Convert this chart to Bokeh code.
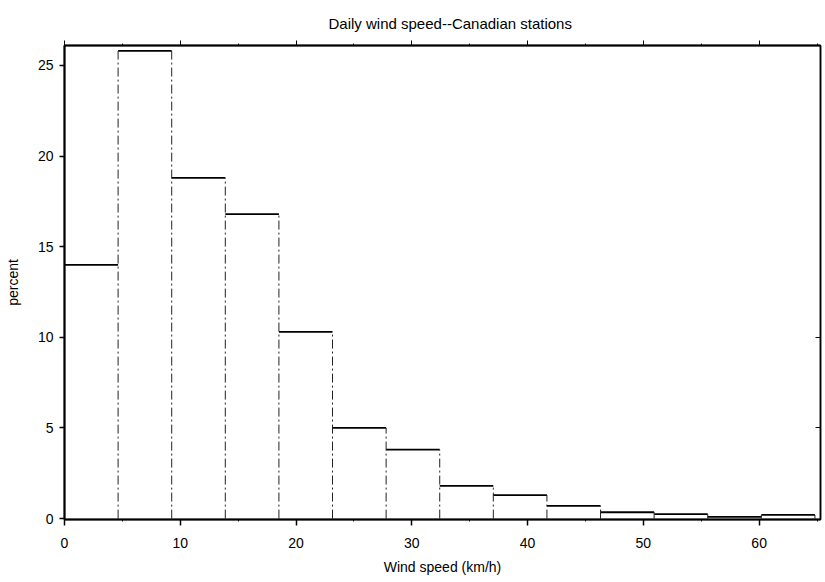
from bokeh.plotting import figure
from bokeh.models import Range1d, LinearAxis, FixedTicker, ColumnDataSource
from bokeh.embed import file_html
from bokeh.resources import INLINE

# Bin edges (km/h) and percent per bin
bin_left = [0.0, 4.63, 9.26, 13.89, 18.52, 23.15, 27.78, 32.41, 37.04, 41.67, 46.30, 50.93, 55.56, 60.19]
bin_right = [4.63, 9.26, 13.89, 18.52, 23.15, 27.78, 32.41, 37.04, 41.67, 46.30, 50.93, 55.56, 60.19, 64.82]
percent = [14.0, 25.8, 18.8, 16.8, 10.3, 5.0, 3.8, 1.8, 1.3, 0.7, 0.35, 0.25, 0.1, 0.2]

x_ticks = [0, 10, 20, 30, 40, 50, 60]
x_minor = [5, 15, 25, 35, 45, 55, 65]
y_ticks = [0, 5, 10, 15, 20, 25]
right_ticks = [5, 10]

FONT = "Liberation Sans"

p = figure(width=823, height=578, output_backend="svg", toolbar_location=None,
           x_range=Range1d(0, 65.3), y_range=Range1d(-0.05, 26.1),
           title="Daily wind speed--Canadian stations",
           x_axis_label="Wind speed (km/h)", y_axis_label="percent")
p.min_border_left = 64
p.min_border_right = 3
p.min_border_top = 45
p.min_border_bottom = 59
p.background_fill_color = "white"
p.border_fill_color = "white"
p.grid.visible = False
p.outline_line_color = "black"
p.outline_line_width = 1.5

p.title.align = "left"
p.title.text_font = FONT
p.title.text_font_size = "15px"
p.title.text_font_style = "normal"
p.title.text_color = "black"
p.title.offset = 264
p.title.standoff = 17

for ax in (p.xaxis[0], p.yaxis[0]):
    ax.axis_line_color = "black"
    ax.axis_line_width = 2
    ax.major_tick_line_color = "black"
    ax.major_tick_line_width = 1.5
    ax.minor_tick_line_color = "black"
    ax.major_label_text_font = FONT
    ax.major_label_text_font_size = "14px"
    ax.major_label_text_color = "black"
    ax.axis_label_text_font = FONT
    ax.axis_label_text_font_size = "14px"
    ax.axis_label_text_font_style = "normal"
    ax.axis_label_text_color = "black"

p.xaxis[0].ticker = FixedTicker(ticks=x_ticks, minor_ticks=x_minor)
p.xaxis[0].major_tick_in = 0
p.xaxis[0].major_tick_out = 6
p.xaxis[0].minor_tick_in = 0
p.xaxis[0].minor_tick_out = 2
p.xaxis[0].major_label_standoff = 12
p.xaxis[0].axis_label_standoff = 8

p.yaxis[0].ticker = FixedTicker(ticks=y_ticks, minor_ticks=[])
p.yaxis[0].major_tick_in = 0
p.yaxis[0].major_tick_out = 5
p.yaxis[0].major_label_standoff = 6
p.yaxis[0].axis_label_standoff = 14

# top axis: ticks only
top = LinearAxis(ticker=FixedTicker(ticks=x_ticks, minor_ticks=x_minor),
                 major_label_overrides={t: "" for t in x_ticks})
top.major_label_text_font_size = "1px"
top.major_label_standoff = 0
top.axis_line_color = "black"
top.axis_line_width = 2
top.major_tick_in = 0
top.major_tick_out = 5
top.minor_tick_in = 0
top.minor_tick_out = 2
top.major_tick_line_color = "black"
top.minor_tick_line_color = "black"
p.add_layout(top, "above")

# right axis: small inward ticks
right = LinearAxis(ticker=FixedTicker(ticks=right_ticks, minor_ticks=[]),
                   major_label_overrides={t: "" for t in right_ticks})
right.major_label_text_font_size = "1px"
right.major_label_standoff = 0
right.axis_line_color = "black"
right.axis_line_width = 1.5
right.major_tick_in = 5
right.major_tick_out = 0
right.major_tick_line_color = "black"
p.add_layout(right, "right")

# histogram tops
tops = ColumnDataSource(dict(x0=bin_left, x1=bin_right, y=percent))
p.segment(x0="x0", y0="y", x1="x1", y1="y", source=tops, line_color="black", line_width=1.8)

# verticals between bins (from baseline up to the taller neighbour)
edges = bin_left + [bin_right[-1]]
vert_h = []
for i in range(len(edges)):
    left_h = percent[i - 1] if i > 0 else 0
    right_h = percent[i] if i < len(percent) else 0
    vert_h.append(max(left_h, right_h))
verts = ColumnDataSource(dict(x=edges[1:], y0=[0] * (len(edges) - 1), y1=vert_h[1:]))
p.segment(x0="x", y0="y0", x1="x", y1="y1", source=verts, line_color="#222222",
          line_width=1.0, line_dash="9 3 2 3")

open("out.html", "w").write(file_html(p, INLINE))
